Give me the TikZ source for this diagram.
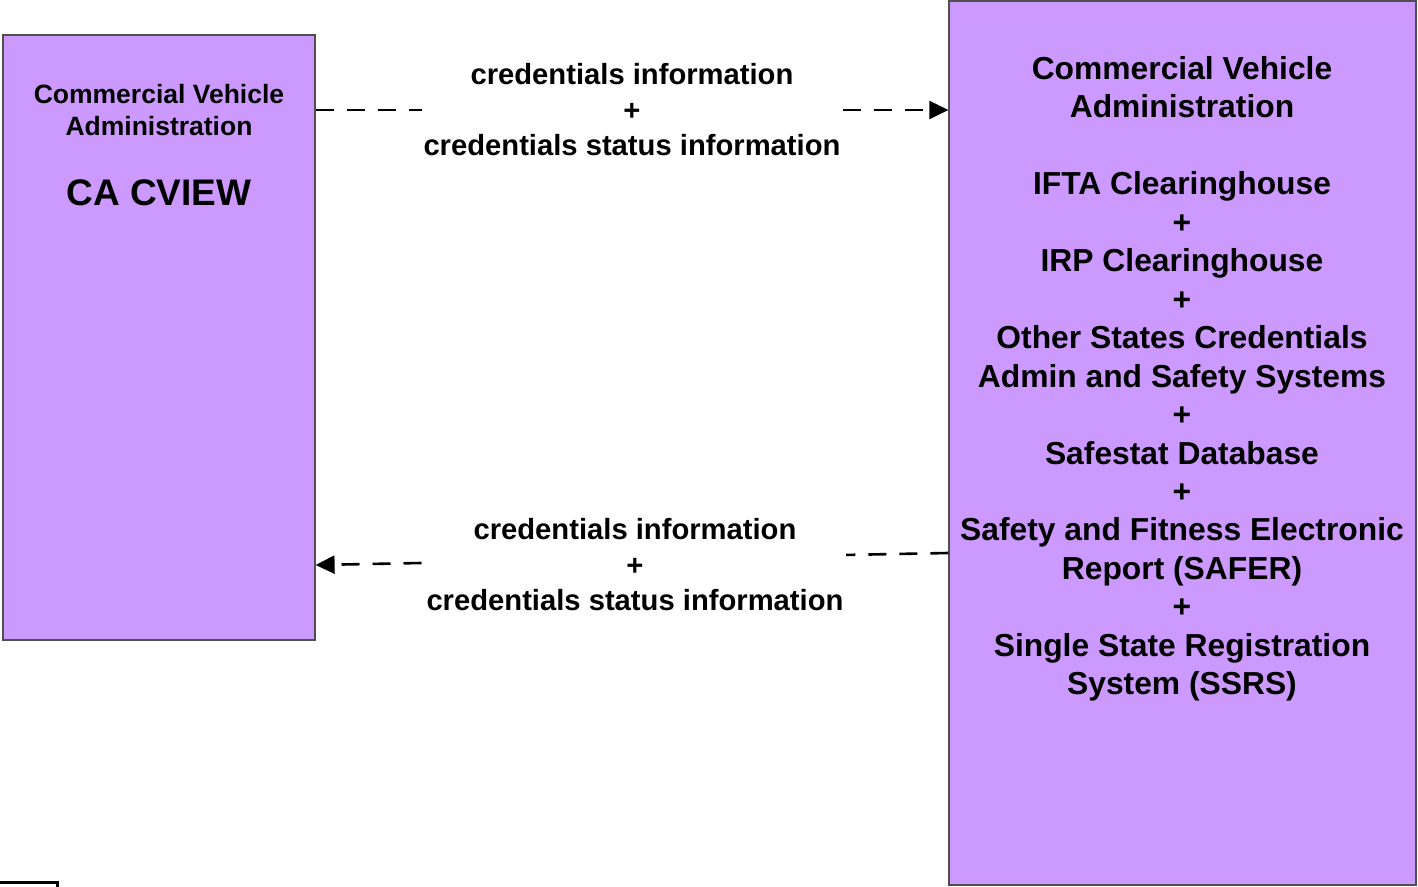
\documentclass[tikz,border=0pt]{standalone}
\usepackage{fontspec}
\setmainfont{Liberation Sans}
\usetikzlibrary{arrows.meta}
\definecolor{boxfill}{HTML}{CC99FF}
\definecolor{boxline}{HTML}{4F4F4F}

\begin{document}
\begin{tikzpicture}[x=0.5pt, y=-0.5pt,
        box/.style={rectangle, draw=boxline, line width=0.6pt, fill=boxfill, inner sep=0pt},
        txt/.style={inner sep=0pt, align=center},
        lbl/.style={fill=white, inner xsep=1pt, inner ysep=0pt, align=center,
                    font=\fontsize{14.6}{17.75}\selectfont\bfseries},
        flow/.style={line width=1.3pt, dash pattern=on 9pt off 6.5pt,
                     -{Triangle[length=9.5pt, width=9pt]}}]
        \useasboundingbox (0,0) rectangle (1418,887);
        \node[box, minimum width=156pt, minimum height=302.5pt] (cview) at (159,337.5) {};
        \node[box, minimum width=233.5pt, minimum height=442pt] (admin) at (1182.5,443) {};
        \node[txt, anchor=north, font=\fontsize{13.25}{16}\selectfont\bfseries] (cviewtxt) at (159,83.5)
            {Commercial Vehicle\\Administration};
        \node[txt, font=\fontsize{18.5}{22}\selectfont\bfseries] (cvname) at (159,193) {CA CVIEW};
        \node[txt, anchor=north, font=\fontsize{15.9}{19.23}\selectfont\bfseries] (admintxt) at (1182,56)
            {Commercial Vehicle\\Administration\\[19.23pt]
             IFTA Clearinghouse\\+\\IRP Clearinghouse\\+\\
             Other States Credentials\\Admin and Safety Systems\\+\\
             Safestat Database\\+\\Safety and Fitness Electronic\\Report (SAFER)\\+\\
             Single State Registration\\System (SSRS)};
        \coordinate (toprow) at (632,110);
        \coordinate (botrow) at (632,565);
        \path
            (cview.east |- toprow)
                edge [flow] node[lbl] (toplbl)
                {credentials information\\+\\credentials status information} (admin.west |- toprow)
            ([yshift=6pt]admin.west |- botrow)
                edge [flow] node[lbl, xshift=1.5pt, yshift=-3pt] (botlbl)
                {credentials information\\+\\credentials status information} (cview.east |- botrow)
            ;
        % cut-off box in the corner
        \draw[line width=1.5pt] (0,882) -- (57,882) -- (57,887);
    \end{tikzpicture}
\end{document}
